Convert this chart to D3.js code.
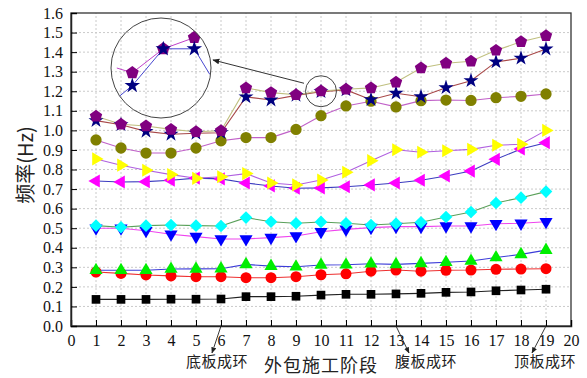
<!DOCTYPE html>
<html>
<head>
<meta charset="utf-8">
<script src="https://cdn.jsdelivr.net/npm/d3@7"></script>
<style>
  body { margin: 0; background: #fff; }
  svg { display: block; }
  .tick text { font-family: "Liberation Serif", "DejaVu Serif", serif; font-size: 16px; fill: #111; }
</style>
</head>
<body>
<svg id="chart" width="587" height="378"></svg>
<script>
;
// construction stages
const stages = d3.range(1, 20);
const xTicks = d3.range(0, 21);
const yTicks = d3.range(0, 17).map(function(d){ return d / 10; });

// frequency (Hz) per mode
const mode1  = [0.136,0.136,0.136,0.137,0.137,0.138,0.150,0.150,0.152,0.158,0.162,0.162,0.164,0.167,0.172,0.174,0.180,0.184,0.188];
const mode2  = [0.276,0.269,0.261,0.256,0.252,0.252,0.247,0.247,0.252,0.262,0.267,0.280,0.286,0.280,0.285,0.286,0.290,0.291,0.293];
const mode3  = [0.285,0.285,0.285,0.291,0.292,0.293,0.315,0.306,0.303,0.312,0.313,0.318,0.315,0.320,0.326,0.332,0.350,0.366,0.388];
const mode4  = [0.500,0.500,0.487,0.469,0.457,0.445,0.445,0.452,0.460,0.482,0.494,0.503,0.508,0.508,0.511,0.511,0.523,0.525,0.533];
const mode5  = [0.513,0.505,0.513,0.516,0.513,0.511,0.554,0.533,0.525,0.532,0.525,0.516,0.523,0.530,0.557,0.583,0.629,0.656,0.687];
const mode6  = [0.741,0.736,0.738,0.745,0.756,0.752,0.731,0.716,0.704,0.706,0.712,0.721,0.731,0.745,0.767,0.792,0.852,0.905,0.937];
const mode7  = [0.854,0.822,0.796,0.774,0.755,0.763,0.779,0.731,0.721,0.746,0.786,0.845,0.901,0.888,0.896,0.903,0.924,0.929,1.000];
const mode8  = [0.951,0.910,0.884,0.884,0.910,0.947,0.963,0.963,1.005,1.075,1.125,1.149,1.120,1.152,1.155,1.153,1.167,1.174,1.186];
const mode9  = [1.050,1.029,0.995,0.980,0.985,0.988,1.171,1.155,1.179,1.198,1.207,1.157,1.190,1.172,1.218,1.254,1.350,1.369,1.416];
const mode10 = [1.072,1.031,1.022,1.005,0.993,0.998,1.217,1.193,1.182,1.201,1.210,1.217,1.246,1.319,1.343,1.353,1.409,1.453,1.484];

// magnified view near stage 10
const insetX    = [8.5, 9, 10, 11, 11.5];
const insetPent = [1.190, 1.187, 1.202, 1.209, 1.213];
const insetStar = [1.171, 1.179, 1.202, 1.202, 1.186];

// stage annotations
const notes = [
  { stage: 6,  label: "底板成环" },
  { stage: 13, label: "腹板成环" },
  { stage: 19, label: "顶板成环" }
];

const symbolPentagon = {
  draw: function(ctx, size){
    const r = Math.sqrt(size / 2.3776);
    for (let i = 0; i < 5; i++) {
      const a = -Math.PI / 2 + i * 2 * Math.PI / 5;
      if (i === 0) ctx.moveTo(r * Math.cos(a), r * Math.sin(a));
      else ctx.lineTo(r * Math.cos(a), r * Math.sin(a));
    }
    ctx.closePath();
  }
};

const series = [
  { values: mode1,  line: "#222222", fill: "#000000", sym: d3.symbolSquare,   size: 75,  rot: 0 },
  { values: mode2,  line: "#ee3030", fill: "#ff0000", sym: d3.symbolCircle,   size: 95,  rot: 0 },
  { values: mode3,  line: "#3c3cd8", fill: "#00ee00", sym: d3.symbolTriangle, size: 75,  rot: 0 },
  { values: mode4,  line: "#ee44ee", fill: "#0000ff", sym: d3.symbolTriangle, size: 75,  rot: 180 },
  { values: mode5,  line: "#5aa05a", fill: "#00ffff", sym: d3.symbolSquare,   size: 80,  rot: 45 },
  { values: mode6,  line: "#3c3cc0", fill: "#ff00ff", sym: d3.symbolTriangle, size: 75,  rot: -90 },
  { values: mode7,  line: "#b060e0", fill: "#ffff00", sym: d3.symbolTriangle, size: 75,  rot: 90 },
  { values: mode8,  line: "#c060c8", fill: "#808000", sym: d3.symbolCircle,   size: 100, rot: 0 },
  { values: mode9,  line: "#a84848", fill: "#000080", sym: d3.symbolStar,     size: 70,  rot: 0 },
  { values: mode10, line: "#c0c080", fill: "#800080", sym: symbolPentagon,    size: 100, rot: 0 }
];

const svg = d3.select("#chart");

let x = d3.scaleLinear().domain([0, 20]).range([71, 571]);
let y = d3.scaleLinear().domain([0, 1.6]).range([326, 13]);

// grid
svg.append("g").selectAll("line")
  .data(stages)
  .enter().append("line")
  .attr("x1", function(d){ return x(d) }).attr("x2", function(d){ return x(d) })
  .attr("y1", y(0)).attr("y2", y(1.6))
  .attr("stroke", "#cacaca").attr("stroke-dasharray", "2,2");

svg.append("g").selectAll("line")
  .data(yTicks.slice(1, 16))
  .enter().append("line")
  .attr("x1", x(0)).attr("x2", x(20))
  .attr("y1", function(d){ return y(d) }).attr("y2", function(d){ return y(d) })
  .attr("stroke", "#cacaca").attr("stroke-dasharray", "2,2");

// frame
svg.append("rect")
  .attr("x", x(0)).attr("y", y(1.6))
  .attr("width", x(20) - x(0)).attr("height", y(0) - y(1.6))
  .attr("fill", "none").attr("stroke", "#333").attr("stroke-width", 1.3);

// axes
svg.append("g")
  .attr("transform", "translate(0," + y(0) + ")")
  .call(d3.axisBottom(x).tickValues(xTicks).tickFormat(d3.format("d")).tickSize(-6).tickPadding(9))
  .call(function(g){ g.select(".domain").attr("stroke", "#222").attr("stroke-width", 1.5) });

svg.append("g")
  .attr("transform", "translate(" + x(0) + ",0)")
  .call(d3.axisLeft(y).tickValues(yTicks).tickFormat(d3.format(".1f")).tickSize(-6).tickPadding(8))
  .call(function(g){ g.select(".domain").attr("stroke", "#222").attr("stroke-width", 1.5) });

// lines + markers
let line = d3.line()
  .x(function(d, i){ return x(stages[i]) })
  .y(function(d){ return y(d) });

series.forEach(function(s){
  svg.append("path")
    .datum(s.values)
    .attr("d", line)
    .attr("fill", "none")
    .attr("stroke", s.line)
    .attr("stroke-width", 1.1);
});

series.forEach(function(s){
  svg.append("g").selectAll("path")
    .data(s.values)
    .enter().append("path")
    .attr("d", d3.symbol().type(s.sym).size(s.size))
    .attr("transform", function(d, i){ return "translate(" + x(stages[i]) + "," + y(d) + ") rotate(" + s.rot + ")" })
    .attr("fill", s.fill);
});

// inset
const ic = { cx: 161, cy: 68, r: 50 };
let ix = d3.scaleLinear().domain([8.5, 11.5]).range([116.8, 209.8]);
let iy = d3.scaleLinear().domain([1.17, 1.21]).range([100, 36]);

svg.append("clipPath").attr("id", "insetClip")
  .append("circle").attr("cx", ic.cx).attr("cy", ic.cy).attr("r", ic.r);

let inset = svg.append("g").attr("clip-path", "url(#insetClip)");
let iline = d3.line()
  .x(function(d, i){ return ix(insetX[i]) })
  .y(function(d){ return iy(d) });

inset.append("path").datum(insetStar).attr("d", iline)
  .attr("fill", "none").attr("stroke", "#4848d0").attr("stroke-width", 1);
inset.append("path").datum(insetPent).attr("d", iline)
  .attr("fill", "none").attr("stroke", "#c040c8").attr("stroke-width", 1);

inset.selectAll(".ip")
  .data(insetPent.slice(1, 4))
  .enter().append("path")
  .attr("d", d3.symbol().type(symbolPentagon).size(110))
  .attr("transform", function(d, i){ return "translate(" + ix(insetX[i + 1]) + "," + iy(d) + ")" })
  .attr("fill", "#800080");

inset.selectAll(".is")
  .data(insetStar.slice(1, 4))
  .enter().append("path")
  .attr("d", d3.symbol().type(d3.symbolStar).size(75))
  .attr("transform", function(d, i){ return "translate(" + ix(insetX[i + 1]) + "," + iy(d) + ")" })
  .attr("fill", "#000080");

svg.append("circle").attr("cx", ic.cx).attr("cy", ic.cy).attr("r", ic.r)
  .attr("fill", "none").attr("stroke", "#444").attr("stroke-width", 1);

svg.append("circle").attr("cx", x(10)).attr("cy", y(1.2)).attr("r", 15.5)
  .attr("fill", "none").attr("stroke", "#444").attr("stroke-width", 1);

svg.append("defs").append("marker")
  .attr("id", "ah").attr("viewBox", "0 0 10 10")
  .attr("refX", 9).attr("refY", 5)
  .attr("markerWidth", 7).attr("markerHeight", 7)
  .attr("orient", "auto")
  .append("path").attr("d", "M0,1 L10,5 L0,9 Z").attr("fill", "#222");

svg.append("line")
  .attr("x1", x(10) - 17).attr("y1", y(1.2) - 8)
  .attr("x2", 213).attr("y2", 60)
  .attr("stroke", "#333").attr("stroke-width", 1)
  .attr("marker-end", "url(#ah)");

// annotations
const noteDx = { 6: -9, 13: 13, 19: -14 };
const labelX = { 6: 217, 13: 426, 19: 545 };

notes.forEach(function(n){
  svg.append("line")
    .attr("x1", x(n.stage)).attr("y1", y(0))
    .attr("x2", x(n.stage) + noteDx[n.stage]).attr("y2", 353)
    .attr("stroke", "#222").attr("stroke-width", 0.9)
    .attr("marker-end", "url(#ah)");
  svg.append("text")
    .attr("x", labelX[n.stage]).attr("y", 367)
    .attr("text-anchor", "middle")
    .style("font-family", "'Noto Sans CJK SC', sans-serif")
    .style("font-size", "15px")
    .style("letter-spacing", "0.5px")
    .style("fill", "#222")
    .text(n.label);
});

// titles
svg.append("text")
  .attr("x", 321).attr("y", 372)
  .attr("text-anchor", "middle")
  .style("font-family", "'Noto Sans CJK SC', sans-serif")
  .style("font-size", "18px")
  .style("letter-spacing", "1px")
  .style("fill", "#222")
  .text("外包施工阶段");

svg.append("text")
  .attr("transform", "translate(33,165) rotate(-90)")
  .attr("text-anchor", "middle")
  .style("font-family", "'Noto Sans CJK SC', sans-serif")
  .style("font-size", "20px")
  .style("fill", "#222")
  .text("频率(Hz)");
</script>
</body>
</html>
